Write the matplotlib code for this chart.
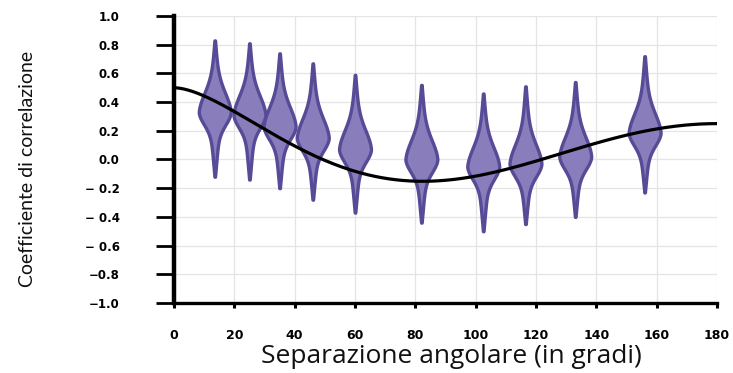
import numpy as np
import matplotlib
matplotlib.use("Agg")
import matplotlib.pyplot as plt

# Violin summaries: angular separation (deg), lowest, highest and modal correlation
positions = [13.5, 25.0, 35.0, 46.0, 60.0, 82.0, 102.5, 116.5, 133.0, 156.0]
v_min = [-0.12, -0.14, -0.20, -0.28, -0.37, -0.44, -0.50, -0.45, -0.40, -0.23]
v_max = [0.83, 0.81, 0.74, 0.67, 0.59, 0.52, 0.46, 0.51, 0.54, 0.72]
v_mode = [0.33, 0.31, 0.23, 0.15, 0.07, 0.00, -0.05, -0.03, 0.02, 0.185]

x_ticks = [0, 20, 40, 60, 80, 100, 120, 140, 160, 180]
x_ticklabels = ["0", "20", "40", "60", "80", "100", "120", "140", "160", "180"]
y_ticks = [-1.0, -0.8, -0.6, -0.4, -0.2, 0.0, 0.2, 0.4, 0.6, 0.8, 1.0]
y_ticklabels = ["\u22121.0", "\u22120.8", "\u2212 0.6", "\u2212 0.4", "\u2212 0.2",
                "0.0", "0.2", "0.4", "0.6", "0.8", "1.0"]

x_label = "Separazione angolare (in gradi)"
y_label = "Coefficiente di correlazione"


def hellings_downs(theta_deg):
    x = (1 - np.cos(np.radians(theta_deg))) / 2
    with np.errstate(divide="ignore", invalid="ignore"):
        xlogx = np.where(x > 0, x * np.log(x), 0.0)
    return 0.5 - 0.25 * x + 1.5 * xlogx


def violin_profile(lo, hi, mode):
    # a bulb at the mode on top of two tapering cones reaching min and max
    y = np.linspace(lo, hi, 300)
    d = y - mode
    s = np.where(d > 0, 0.13, 0.085)
    reach = np.where(d > 0, hi - mode, mode - lo) * 1.05
    cone = np.clip(1 - np.abs(d) / reach, 0, 1)
    w = np.exp(-0.5 * (d / s) ** 2) + 0.6 * cone
    return dict(coords=y, vals=w, mean=mode, median=mode, min=lo, max=hi)


fig = plt.figure(figsize=(7.33, 3.73), dpi=100)
ax = fig.add_axes([0.2374, 0.1877, 0.7408, 0.7694])

stats = [violin_profile(lo, hi, m) for lo, hi, m in zip(v_min, v_max, v_mode)]
parts = ax.violin(stats, positions=positions, widths=10.6,
                  showmeans=False, showextrema=False, showmedians=False)
for body in parts["bodies"]:
    body.set_facecolor("#897dbb")
    body.set_edgecolor("#574a96")
    body.set_linewidth(2.4)
    body.set_alpha(1.0)
    body.set_zorder(3)

theta = np.linspace(0, 180, 400)
ax.plot(theta, hellings_downs(theta), color="black", lw=2.3, zorder=4)

ax.set_xlim(0, 180)
ax.set_ylim(-1, 1)
ax.set_xticks(x_ticks)
ax.set_xticklabels(x_ticklabels)
ax.set_yticks(y_ticks)
ax.set_yticklabels(y_ticklabels)

ax.grid(True, color="#e4e4e4", linewidth=0.9)
ax.set_axisbelow(True)
for side in ("top", "right"):
    ax.spines[side].set_visible(False)
ax.spines["left"].set_linewidth(3.2)
ax.spines["bottom"].set_linewidth(2.4)

ax.tick_params(axis="y", length=13, width=2.0, pad=26, direction="out")
ax.tick_params(axis="x", length=3.8, width=2.2, pad=15, direction="out")
for lab in ax.get_yticklabels():
    lab.set_fontweight("bold")
    lab.set_fontsize(8.5)
    lab.set_family("DejaVu Sans")
for lab in ax.get_xticklabels():
    lab.set_fontweight("bold")
    lab.set_fontsize(9)
    lab.set_family("DejaVu Sans")

fig.text(0.6153, 0.043, x_label, ha="center", va="center",
         fontsize=19, family=["Open Sans", "DejaVu Sans"], color="#111111")
fig.text(0.037, 0.547, y_label, ha="center", va="center", rotation=90,
         fontsize=14, family=["Lato", "DejaVu Sans"], fontweight="normal",
         color="#111111")

fig.savefig("out.png", dpi=100)
